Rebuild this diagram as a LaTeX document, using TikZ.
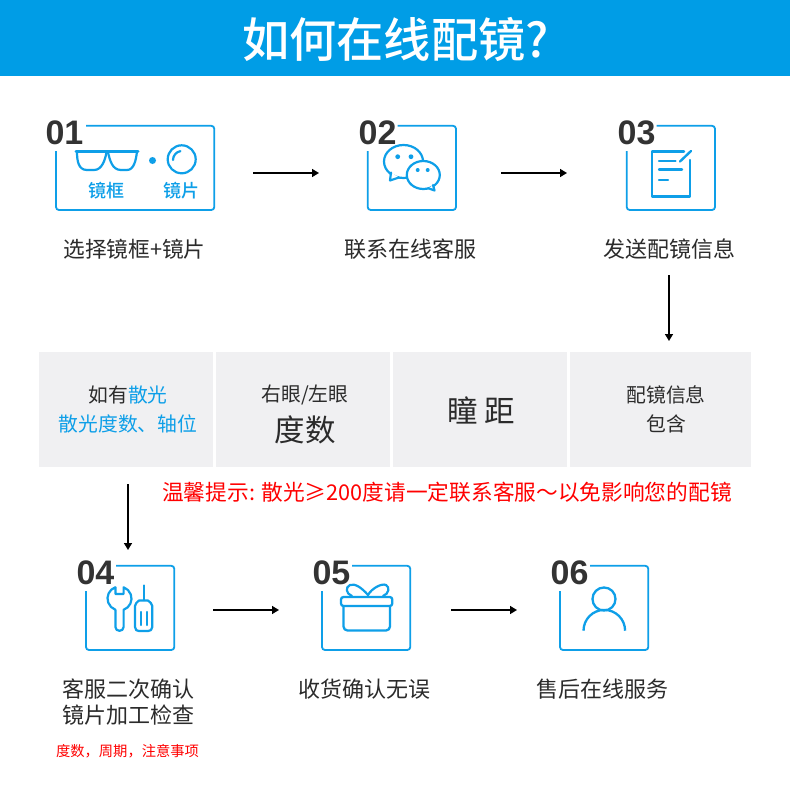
\documentclass[tikz,border=0pt]{standalone}
\usepackage{fontspec}
\newfontfamily\cjk{Noto Sans CJK SC}
\newfontfamily\cjkm{Noto Sans CJK SC Medium}
\newfontfamily\numf{Liberation Sans}
\definecolor{hdr}{HTML}{009DE6}
\definecolor{ico}{HTML}{0E9FE8}
\definecolor{gbox}{HTML}{F0F0F2}
\definecolor{dark}{HTML}{333333}
\definecolor{bodytxt}{HTML}{2B2B2B}
\newcommand{\fs}[1]{\fontsize{#1}{#1}\selectfont}
\usetikzlibrary{arrows.meta}
\tikzset{
  frame/.style={draw=ico,line width=1.8pt,rounded corners=3pt},
  icon/.style={draw=ico,line width=2.2pt,line cap=round,line join=round},
  num/.style={inner sep=0pt,text=dark,font=\numf\bfseries\fs{34}},
  lab/.style={inner sep=0pt,text=bodytxt,font=\cjk\fs{22}},
  cell/.style={fill=gbox,draw=none,inner sep=0pt},
  celltxt/.style={inner sep=0pt,text=bodytxt,font=\cjk\fs{19.8}},
  big/.style={inner sep=0pt,text=bodytxt,font=\cjk\fs{30.5}},
  flow/.style={draw=black,line width=1.5pt,-{Triangle[length=7pt,width=8pt]}}
}
\begin{document}
\begin{tikzpicture}[x=1pt,y=-1pt]
\useasboundingbox (0,0) rectangle (790,800);
\fill[white] (0,0) rectangle (790,800);
% header
\node[fill=hdr,minimum width=790pt,minimum height=76pt,inner sep=0pt,anchor=north west] (header) at (0,0) {};
\node[inner sep=0pt,text=white,font=\cjkm\fs{47.2}] (title) at (395.5,39) {如何在线配镜?};
% frames
\draw[frame] (86,125.8)--(214.3,125.8)--(214.3,210)--(56,210)--(56,151);
\draw[frame] (397.7,125.8)--(456,125.8)--(456,210)--(367.7,210)--(367.7,151);
\draw[frame] (656.7,125.8)--(715,125.8)--(715,210)--(626.7,210)--(626.7,151);
\draw[frame] (116,565.8)--(174.3,565.8)--(174.3,650)--(86,650)--(86,591);
\draw[frame] (352,565.8)--(410.3,565.8)--(410.3,650)--(322,650)--(322,591);
\draw[frame] (590,565.8)--(648.3,565.8)--(648.3,650)--(560,650)--(560,591);
% numbers
\node[num] (n1) at (64.5,132.5) {01};
\node[num] (n2) at (377.5,132.5) {02};
\node[num] (n3) at (636.5,132.5) {03};
\node[num] (n4) at (95.5,572.5) {04};
\node[num] (n5) at (331.5,572.5) {05};
\node[num] (n6) at (569.5,572.5) {06};
% glasses
\draw[icon,line width=3pt] (76,151.2) -- (138,151.2);
\draw[icon,fill=none] (77,151.5) .. controls (77,160) and (78,170) .. (87,170) -- (94,170) .. controls (102,170) and (105,160) .. (106.5,152.5);
\draw[icon,fill=none] (108,152.5) .. controls (110,160) and (112,170) .. (121,170) -- (127,170) .. controls (134,170) and (136,160) .. (137,151.5);
\fill[ico] (152.5,160.5) circle[radius=3.5pt];
\draw[icon] (181.7,159.3) circle[radius=14pt];
\draw[icon] (173,160) arc[start angle=180,end angle=100,radius=9pt];
\node[inner sep=0pt,text=ico,font=\cjkm\fs{18}] (t1) at (106,190.5) {镜框};
\node[inner sep=0pt,text=ico,font=\cjkm\fs{18}] (t2) at (181,190.5) {镜片};
% chat
\draw[icon,fill=white] (403.5,161.5) ellipse[x radius=19.5pt,y radius=16.5pt];
\draw[icon,fill=white] (391,172.5) -- (390,180.5) -- (399,177.5);
\fill[ico] (397.7,156.7) circle[radius=2.4pt] (411,156.7) circle[radius=2.4pt];
\draw[icon,fill=white] (423.3,175) ellipse[x radius=16.5pt,y radius=14pt];
\draw[icon,fill=white] (433,185) -- (434.5,190.5) -- (428.5,188.3);
\fill[ico] (417.7,170) circle[radius=2pt] (427.7,170) circle[radius=2pt];
% document
\draw[icon,line width=2.4pt] (684,151.5)--(652,151.5)--(652,196.5)--(690,196.5)--(690,160);
\draw[icon,line width=2.4pt] (680,161.5)--(691,151);
\draw[icon,line width=2.4pt] (659,161)--(675.5,161);
\draw[icon,line width=2.4pt] (659,169.5)--(682,169.5);
\draw[icon,line width=2.4pt] (659,180)--(668,180);
% wrench
\draw[icon] (115.4,587.2) arc[start angle=110,end angle=250,radius=12pt] -- (115.4,627) .. controls (115.4,632) and (123.6,632) .. (123.6,627) -- (123.6,609.8) arc[start angle=-70,end angle=70,radius=12pt] -- (123.6,594) -- (115.4,594) -- cycle;
\draw[icon] (143.7,585.5) -- (143.7,600);
\draw[icon] (139,600.5) -- (148,600.5) .. controls (150,602) and (152.3,604) .. (152.3,606) -- (152.3,627) .. controls (152.3,630) and (150,631) .. (148,631) -- (139,631) .. controls (137,631) and (135,630) .. (135,627) -- (135,606) .. controls (135,604) and (137,602) .. (139,600.5) -- cycle;
\draw[icon] (141,612)--(141,625) (146.7,612)--(146.7,625);
% gift
\draw[icon,line width=2.3pt,rounded corners=2.5pt] (341,597)rectangle(392.3,606);
\draw[icon,line width=2.3pt,rounded corners=4pt] (343.5,606)--(343.5,630.5)--(390,630.5)--(390,606);
\draw[icon] (368,595) .. controls (362,588) and (355,583) .. (350,585) .. controls (345,587) and (346,594) .. (352,596);
\draw[icon] (368,595) .. controls (372,588) and (382,583) .. (386,585) .. controls (390,587) and (389,594) .. (383,596);
% person
\draw[icon,line width=2.3pt] (604,599) circle[radius=11.5pt];
\draw[icon,line width=2.3pt,line cap=butt] (583.5,630.7) arc[start angle=180,end angle=0,radius=20.8pt];
% labels
\node[lab,font=\cjk\fs{21.7}] (l1) at (134.5,249) {选择镜框+镜片};
\node[lab] (l2) at (410.5,249) {联系在线客服};
\node[lab] (l3) at (669.5,249) {发送配镜信息};
\node[lab] (l4a) at (128,689) {客服二次确认};
\node[lab] (l4b) at (128,715) {镜片加工检查};
\node[lab] (l5) at (364,689) {收货确认无误};
\node[lab] (l6) at (602,689) {售后在线服务};
\node[inner sep=0pt,text=red,font=\cjk\fs{14.3}] (note2) at (127.5,751) {度数，周期，注意事项};
% cells
\node[cell,minimum width=174pt,minimum height=115pt,anchor=north west] (c1) at (39,352) {};
\node[cell,minimum width=174pt,minimum height=115pt,anchor=north west] (c2) at (216,352) {};
\node[cell,minimum width=174pt,minimum height=115pt,anchor=north west] (c3) at (393,352) {};
\node[cell,minimum width=181pt,minimum height=115pt,anchor=north west] (c4) at (570,352) {};
\node[celltxt] (c1a) at (128,395) {如有\textcolor{ico}{散光}};
\node[celltxt,text=ico] (c1b) at (128,424) {散光度数、轴位};
\node[celltxt] (c2a) at (305,395) {右眼/左眼};
\node[big] (c2b) at (305,430) {度数};
\node[big] (c3a) at (481,410) {瞳 距};
\node[celltxt] (c4a) at (666,395) {配镜信息};
\node[celltxt] (c4b) at (666,424) {包含};
\node[inner sep=0pt,text=red,font=\cjk\fs{21.7}] (note1) at (447,492) {温馨提示: 散光≥200度请一定联系客服～以免影响您的配镜};
% arrows
\coordinate (a1) at (253,173); \coordinate (b1) at (319,173);
\coordinate (a2) at (501,173); \coordinate (b2) at (567,173);
\coordinate (a3) at (669,275); \coordinate (b3) at (669,341);
\coordinate (a4) at (128,484); \coordinate (b4) at (128,550);
\coordinate (a5) at (213,610); \coordinate (b5) at (279,610);
\coordinate (a6) at (451,610); \coordinate (b6) at (517,610);
\draw[flow] (a1)--(b1);
\draw[flow] (a2)--(b2);
\draw[flow] (a3)--(b3);
\draw[flow] (a4)--(b4);
\draw[flow] (a5)--(b5);
\draw[flow] (a6)--(b6);
\end{tikzpicture}
\end{document}
